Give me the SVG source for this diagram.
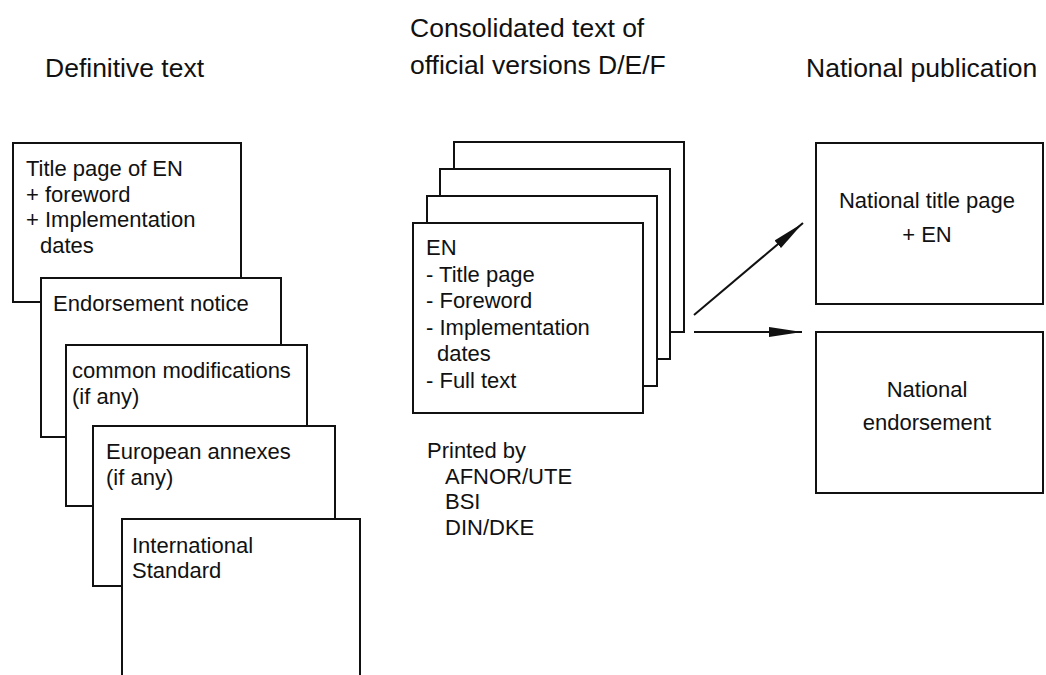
<svg xmlns="http://www.w3.org/2000/svg" width="1046" height="675" viewBox="0 0 1046 675">
<defs>
<style>
.box{fill:#fff;stroke:#111;stroke-width:2}
.t{font-family:"Liberation Sans",Arial,sans-serif;font-size:22px;fill:#111}
.h{font-family:"Liberation Sans",Arial,sans-serif;font-size:26.5px;fill:#111}
.c{text-anchor:middle}
.ln{stroke:#111;stroke-width:2;fill:none}
</style>
<marker id="ah" markerUnits="userSpaceOnUse" markerWidth="34" markerHeight="12" refX="33" refY="6" orient="auto">
<path d="M0,1 L33,6 L0,11 Z" fill="#111"/>
</marker>
</defs>
<rect width="1046" height="675" fill="#fff"/>

<g id="headers">
<text class="h" x="45" y="77">Definitive text</text>
<text class="h" x="410" y="37">Consolidated text of</text>
<text class="h" x="410" y="74">official versions D/E/F</text>
<text class="h" x="806" y="77">National publication</text>
</g>

<g id="def-title">
<rect class="box" x="13" y="143" width="228" height="159"/>
<text class="t" x="26" y="176">Title page of EN</text>
<text class="t" x="26" y="201.5">+ foreword</text>
<text class="t" x="26" y="227">+ Implementation</text>
<text class="t" x="40" y="252.5">dates</text>
</g>
<g id="def-endorsement">
<rect class="box" x="41" y="278" width="240" height="159"/>
<text class="t" x="53" y="311">Endorsement notice</text>
</g>
<g id="def-common">
<rect class="box" x="66" y="345" width="241" height="161"/>
<text class="t" x="72" y="378">common modifications</text>
<text class="t" x="72" y="404">(if any)</text>
</g>
<g id="def-annexes">
<rect class="box" x="93" y="426" width="242" height="160"/>
<text class="t" x="106" y="459">European annexes</text>
<text class="t" x="106" y="485">(if any)</text>
</g>
<g id="def-international">
<rect class="box" x="122" y="519" width="238" height="180"/>
<text class="t" x="132" y="553">International</text>
<text class="t" x="132" y="578">Standard</text>
</g>

<g id="cons-stack">
<rect class="box" x="454" y="142" width="230" height="190"/>
<rect class="box" x="440" y="169" width="230" height="190"/>
<rect class="box" x="427" y="196" width="230" height="190"/>
</g>
<g id="cons-en">
<rect class="box" x="413" y="223" width="230" height="190"/>
<text class="t" x="426" y="255">EN</text>
<text class="t" x="426" y="282">- Title page</text>
<text class="t" x="426" y="308">- Foreword</text>
<text class="t" x="426" y="335">- Implementation</text>
<text class="t" x="437" y="361">dates</text>
<text class="t" x="426" y="388">- Full text</text>
</g>
<g id="printed-by">
<text class="t" x="427" y="458">Printed by</text>
<text class="t" x="445" y="484">AFNOR/UTE</text>
<text class="t" x="445" y="509">BSI</text>
<text class="t" x="445" y="535">DIN/DKE</text>
</g>

<g id="nat-title">
<rect class="box" x="816" y="143" width="227" height="161"/>
<text class="t c" x="927" y="208">National title page</text>
<text class="t c" x="927" y="242">+ EN</text>
</g>
<g id="nat-endorsement">
<rect class="box" x="816" y="332" width="227" height="161"/>
<text class="t c" x="927" y="397">National</text>
<text class="t c" x="927" y="430">endorsement</text>
</g>

<g id="connectors">
<line class="ln" x1="694" y1="315" x2="803" y2="223" marker-end="url(#ah)"/>
<line class="ln" x1="694" y1="332" x2="802" y2="332" marker-end="url(#ah)"/>
</g>
</svg>
